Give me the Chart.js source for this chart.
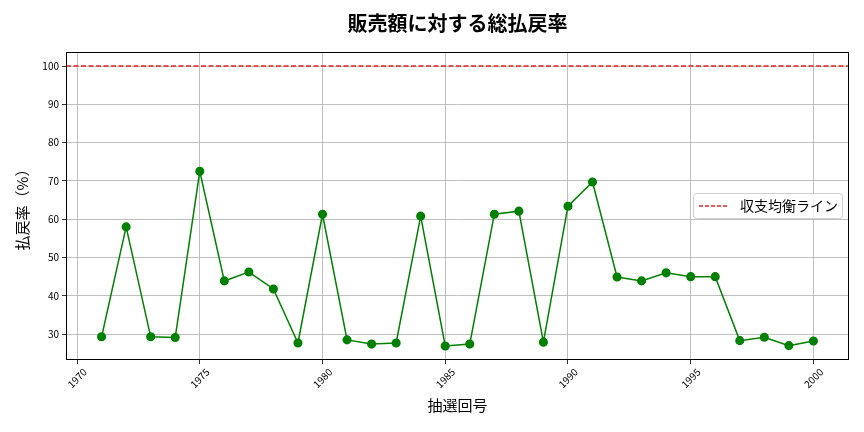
<!DOCTYPE html>
<html>
<head>
<meta charset="utf-8">
<script src="https://cdn.jsdelivr.net/npm/chart.js@4.4.1/dist/chart.umd.min.js"></script>
<style>
  html, body { margin: 0; padding: 0; background: #fff; }
</style>
</head>
<body>
<canvas id="myChart" width="864" height="432"></canvas>
<script>
'use strict'

// data
var years = [1971, 1972, 1973, 1974, 1975, 1976, 1977, 1978, 1979, 1980,
             1981, 1982, 1983, 1984, 1985, 1986, 1987, 1988, 1989, 1990,
             1991, 1992, 1993, 1994, 1995, 1996, 1997, 1998, 1999, 2000]
var payoutRate = [29.3, 58.0, 29.3, 29.1, 72.5, 43.9, 46.2, 41.8, 27.7, 61.3,
                  28.5, 27.4, 27.7, 60.8, 26.9, 27.4, 61.3, 62.1, 27.9, 63.4,
                  69.7, 44.9, 43.9, 46.0, 45.0, 45.0, 28.3, 29.2, 27.0, 28.2]
var breakEven = 100
var xTicks = [1970, 1975, 1980, 1985, 1990, 1995, 2000]
var yTicks = [30, 40, 50, 60, 70, 80, 90, 100]

var titleText = '販売額に対する総払戻率'
var xLabel = '抽選回号'
var yLabel = '払戻率（%）'
var lineLabel = '収支均衡ライン'

var FONT = "'Noto Sans CJK JP', 'Noto Sans', sans-serif"

// matplotlib style margins (5%)
var xPad = (years[years.length - 1] - years[0]) * 0.05
var xMin = years[0] - xPad
var xMax = years[years.length - 1] + xPad
var yLo = Math.min.apply(null, payoutRate)
var yPad = (breakEven - yLo) * 0.05
var yMin = yLo - yPad
var yMax = breakEven + yPad

var points = years.map(function (y, i) { return { x: y, y: payoutRate[i] } })

// title, frame, legend box
var framePlugin = {
  id: 'frame',
  afterDraw: function (chart) {
    var c = chart.ctx
    var a = chart.chartArea
    c.save()
    c.strokeStyle = '#000'
    c.lineWidth = 1
    c.strokeRect(a.left + 0.5, a.top + 0.5, a.right - a.left - 1, a.bottom - a.top - 1)

    // title centred over the plot
    c.fillStyle = '#000'
    c.font = 'bold 20px ' + FONT
    c.textAlign = 'center'
    c.textBaseline = 'middle'
    c.fillText(titleText, (a.left + a.right) / 2, 23)

    // legend
    var bx = a.right - 156, by = 193, bw = 149, bh = 25
    c.fillStyle = 'rgba(255,255,255,0.8)'
    c.strokeStyle = '#d0d0d0'
    c.beginPath()
    c.roundRect(bx + 0.5, by + 0.5, bw, bh, 3)
    c.fill()
    c.stroke()
    c.strokeStyle = '#d62728'
    c.lineWidth = 1.5
    c.setLineDash([4, 2])
    c.beginPath()
    c.moveTo(bx + 6, by + 13)
    c.lineTo(bx + 34, by + 13)
    c.stroke()
    c.setLineDash([])
    c.fillStyle = '#000'
    c.font = '14px ' + FONT
    c.textAlign = 'left'
    c.fillText(lineLabel, bx + 47, by + 13)
    c.restore()
  }
}

var ctx = document.getElementById('myChart').getContext('2d')
var chart = new Chart(ctx, {
  type: 'line',
  data: {
    datasets: [{
      label: lineLabel,
      data: [{ x: xMin, y: breakEven }, { x: xMax, y: breakEven }],
      borderColor: '#d62728',
      borderWidth: 1.5,
      borderDash: [5, 2.5],
      pointRadius: 0,
      order: 0
    },
    {
      label: 'payout',
      data: points,
      borderColor: '#008000',
      backgroundColor: '#008000',
      borderWidth: 1.5,
      pointRadius: 3.8,
      pointHoverRadius: 3.8,
      tension: 0,
      order: 1
    }]
  },
  options: {
    responsive: false,
    animation: false,
    layout: { padding: { left: 9, right: 15, top: 52, bottom: 14 } },
    plugins: {
      legend: { display: false },
      tooltip: { enabled: false },
      title: { display: false }
    },
    scales: {
      x: {
        type: 'linear',
        min: xMin,
        max: xMax,
        afterBuildTicks: function (s) { s.ticks = xTicks.map(function (v) { return { value: v } }) },
        afterFit: function (s) { s.height = 58 },
        grid: { color: '#b0b0b0', lineWidth: 0.8, tickColor: '#000', tickLength: 4 },
        border: { display: false },
        ticks: {
          color: '#000',
          font: { family: FONT, size: 10 },
          minRotation: 45,
          maxRotation: 45,
          labelOffset: 8,
          padding: 2,
          callback: function (v) { return String(v) }
        },
        title: {
          display: true,
          text: xLabel,
          color: '#000',
          font: { family: FONT, size: 15 },
          padding: { top: 4 }
        }
      },
      y: {
        min: yMin,
        max: yMax,
        afterBuildTicks: function (s) { s.ticks = yTicks.map(function (v) { return { value: v } }) },
        afterFit: function (s) { s.width = 57 },
        grid: { color: '#b0b0b0', lineWidth: 0.8, tickColor: '#000', tickLength: 4 },
        border: { display: false },
        ticks: {
          color: '#000',
          font: { family: FONT, size: 10 },
          padding: 3,
          callback: function (v) { return String(v) }
        },
        title: {
          display: true,
          text: yLabel,
          color: '#000',
          font: { family: FONT, size: 15 },
          padding: { bottom: 4 }
        }
      }
    }
  },
  plugins: [framePlugin]
})
</script>
</body>
</html>
